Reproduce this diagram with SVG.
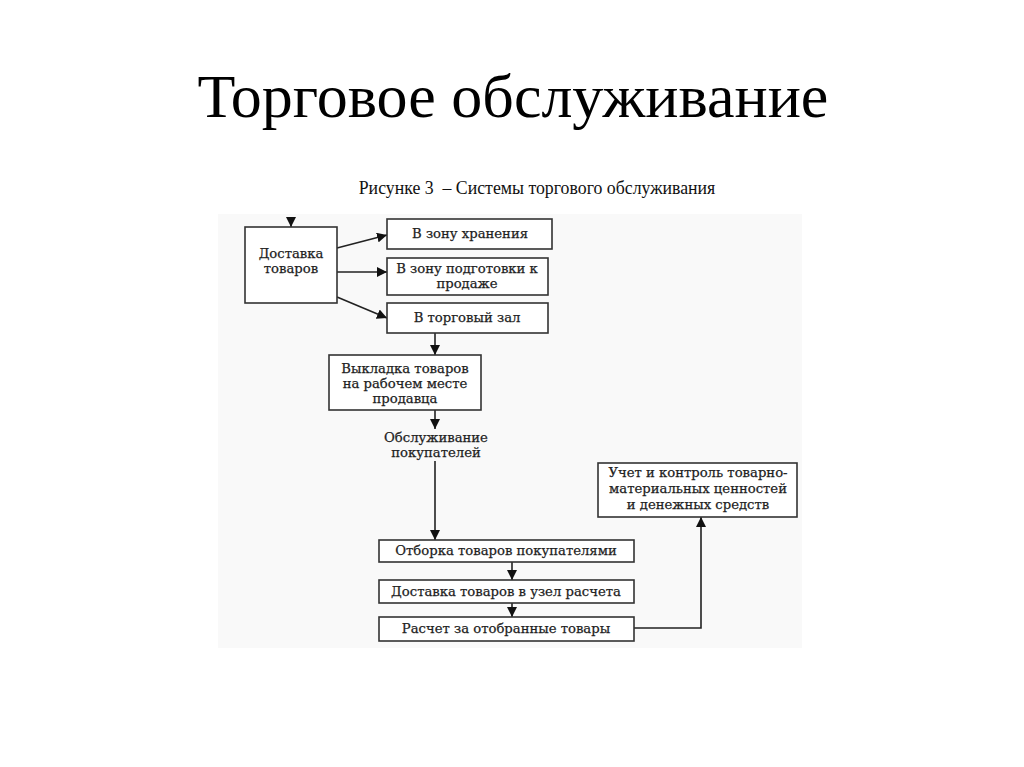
<svg xmlns="http://www.w3.org/2000/svg" width="1024" height="767" viewBox="0 0 1024 767">
<style>
.box{fill:#fff;stroke:#333;stroke-width:1.6}
.t{font-family:"DejaVu Serif","Liberation Serif",serif;font-size:13.2px;fill:#222;stroke:#222;stroke-width:0.25;text-anchor:middle}
.c{fill:none;stroke:#222;stroke-width:1.6}
</style>
<defs>
<marker id="ah" viewBox="0 0 10 10" refX="10" refY="5" markerWidth="10" markerHeight="10" markerUnits="userSpaceOnUse" orient="auto">
<path d="M0,0 L10,5 L0,10 Z" fill="#111"/>
</marker>
</defs>
<rect width="1024" height="767" fill="#fff"/>
<text x="513" y="117" font-family="Liberation Serif, serif" font-size="62" text-anchor="middle" fill="#000">Торговое обслуживание</text>
<text x="537" y="194" font-family="Liberation Serif, serif" font-size="17.8" text-anchor="middle" fill="#111" xml:space="preserve">Рисунке 3  – Системы торгового обслуживания</text>
<rect x="218" y="214" width="584" height="434" fill="#f9f9f9"/>
<g id="connectors">
<line class="c" x1="291" y1="218" x2="291" y2="227" marker-end="url(#ah)"/>
<line class="c" x1="337" y1="248" x2="387" y2="235" marker-end="url(#ah)"/>
<line class="c" x1="337" y1="272" x2="387" y2="272" marker-end="url(#ah)"/>
<line class="c" x1="337" y1="297" x2="387" y2="318" marker-end="url(#ah)"/>
<line class="c" x1="435" y1="333" x2="435" y2="355" marker-end="url(#ah)"/>
<line class="c" x1="435" y1="410" x2="435" y2="429" marker-end="url(#ah)"/>
<line class="c" x1="435" y1="461" x2="435" y2="540" marker-end="url(#ah)"/>
<line class="c" x1="512" y1="562" x2="512" y2="580" marker-end="url(#ah)"/>
<line class="c" x1="512" y1="603" x2="512" y2="617" marker-end="url(#ah)"/>
<polyline class="c" points="634,628 701,628 701,517" marker-end="url(#ah)"/>
</g>
<g id="n-dostavka">
<rect class="box" x="245" y="227" width="92" height="76"/>
<text class="t" x="291" y="258">Доставка</text>
<text class="t" x="291" y="273">товаров</text>
</g>
<g id="n-hranenie">
<rect class="box" x="387" y="219" width="165" height="30"/>
<text class="t" x="470" y="238">В зону хранения</text>
</g>
<g id="n-podgotovka">
<rect class="box" x="387" y="258" width="161" height="37"/>
<text class="t" x="467" y="273">В зону подготовки к</text>
<text class="t" x="467" y="288">продаже</text>
</g>
<g id="n-zal">
<rect class="box" x="387" y="303" width="161" height="30"/>
<text class="t" x="467" y="322">В торговый зал</text>
</g>
<g id="n-vykladka">
<rect class="box" x="329" y="355" width="152" height="55"/>
<text class="t" x="405" y="373">Выкладка товаров</text>
<text class="t" x="405" y="388">на рабочем месте</text>
<text class="t" x="405" y="403">продавца</text>
</g>
<g id="n-obsluzhivanie">
<text class="t" x="436" y="442">Обслуживание</text>
<text class="t" x="436" y="457">покупателей</text>
</g>
<g id="n-uchet">
<rect class="box" x="598" y="463" width="199" height="54"/>
<text class="t" x="698" y="477">Учет и контроль товарно-</text>
<text class="t" x="698" y="493">материальных ценностей</text>
<text class="t" x="698" y="509">и денежных средств</text>
</g>
<g id="n-otborka">
<rect class="box" x="379" y="540" width="255" height="22"/>
<text class="t" x="506" y="555">Отборка товаров покупателями</text>
</g>
<g id="n-uzel">
<rect class="box" x="379" y="580" width="255" height="23"/>
<text class="t" x="506" y="596">Доставка товаров в узел расчета</text>
</g>
<g id="n-raschet">
<rect class="box" x="379" y="617" width="255" height="24"/>
<text class="t" x="506" y="633">Расчет за отобранные товары</text>
</g>
</svg>
